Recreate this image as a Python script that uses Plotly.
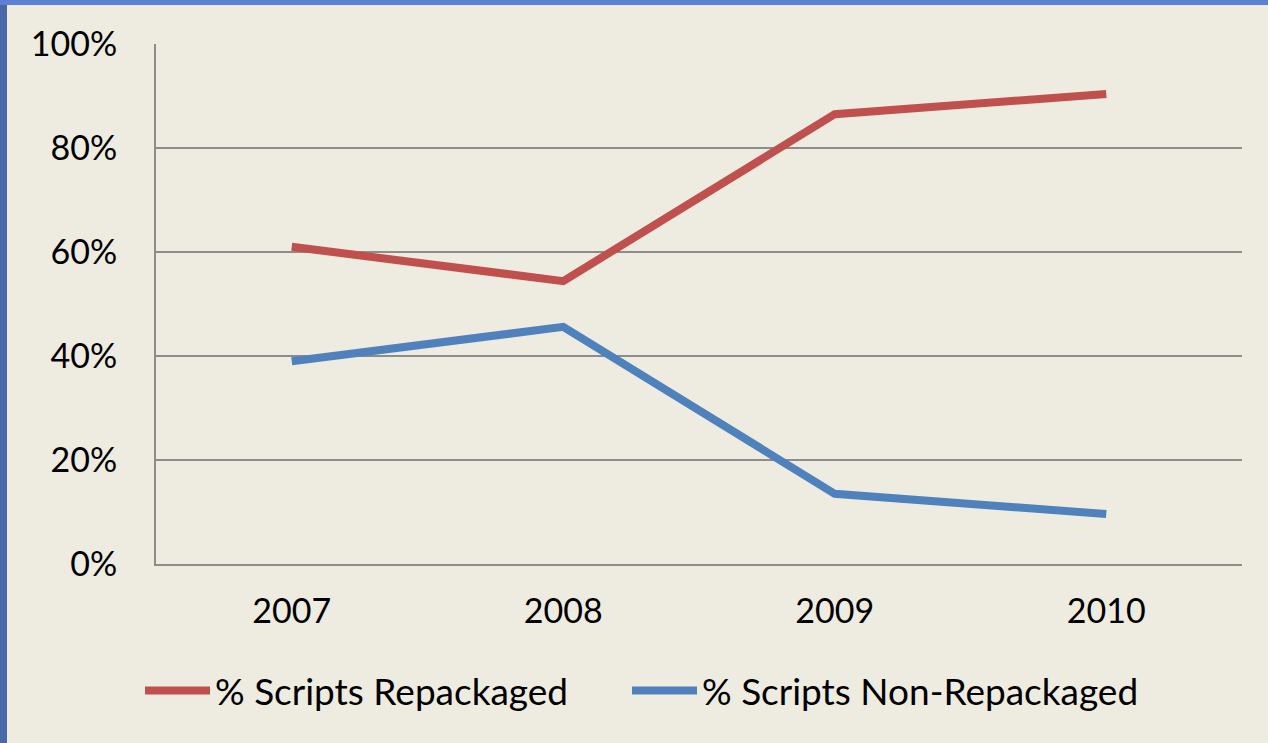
import plotly.graph_objects as go

years = ["2007", "2008", "2009", "2010"]
repackaged = [61.0, 54.4, 86.5, 90.4]
non_repackaged = [39.0, 45.6, 13.5, 9.6]
y_ticks = [0, 20, 40, 60, 80, 100]
y_tick_labels = ["0%", "20%", "40%", "60%", "80%", "100%"]

W, H = 1268, 743
L, R, T, B = 156, 26, 44, 179
pw, ph = W - L - R, H - T - B

def px_x(p):
    return (p - L) / pw

def px_y(p):
    return (H - B - p) / ph

FONT = "Lato"
BG = "#EEEBE0"

fig = go.Figure()
fig.add_trace(go.Scatter(x=years, y=repackaged, mode="lines", name="% Scripts Repackaged",
                         line=dict(color="#C0504D", width=8), legend="legend"))
fig.add_trace(go.Scatter(x=years, y=non_repackaged, mode="lines", name="% Scripts Non-Repackaged",
                         line=dict(color="#4F81BD", width=8), legend="legend2"))

shapes = [
    dict(type="rect", xref="paper", yref="paper", x0=px_x(0), x1=px_x(7), y0=px_y(H), y1=px_y(0),
         fillcolor="#4A68A8", line=dict(width=0), layer="above"),
    dict(type="rect", xref="paper", yref="paper", x0=px_x(0), x1=px_x(W), y0=px_y(5), y1=px_y(0),
         fillcolor="#5B82D4", line=dict(width=0), layer="above"),
]

legend_common = dict(orientation="h", xref="container", yref="container", xanchor="left",
                     y=0.07, yanchor="middle", font=dict(size=37, family=FONT), itemwidth=65,
                     bgcolor="rgba(0,0,0,0)")

fig.update_layout(
    width=W, height=H,
    margin=dict(l=L, r=R, t=T, b=B),
    paper_bgcolor=BG, plot_bgcolor=BG,
    font=dict(family=FONT, size=34, color="#000000"),
    showlegend=True,
    legend=dict(x=140 / W, **legend_common),
    legend2=dict(x=627 / W, **legend_common),
    xaxis=dict(type="category", range=[-0.5, 3.5], showgrid=False, showline=True,
               linecolor="#8C8C8C", linewidth=2, ticks="", tickfont=dict(size=34),
               ticklabelstandoff=16, zeroline=False),
    yaxis=dict(range=[0, 100], tickvals=y_ticks, ticktext=y_tick_labels, showgrid=True,
               gridcolor="#8C8C8C", gridwidth=1.5, showline=True, linecolor="#8C8C8C", linewidth=2,
               ticks="", tickfont=dict(size=34), ticklabelstandoff=30, zeroline=False),
    shapes=shapes,
)

fig.write_html("out.html", config={"displayModeBar": False},
               post_script="document.body.style.margin='0';document.body.style.overflow='hidden';")
